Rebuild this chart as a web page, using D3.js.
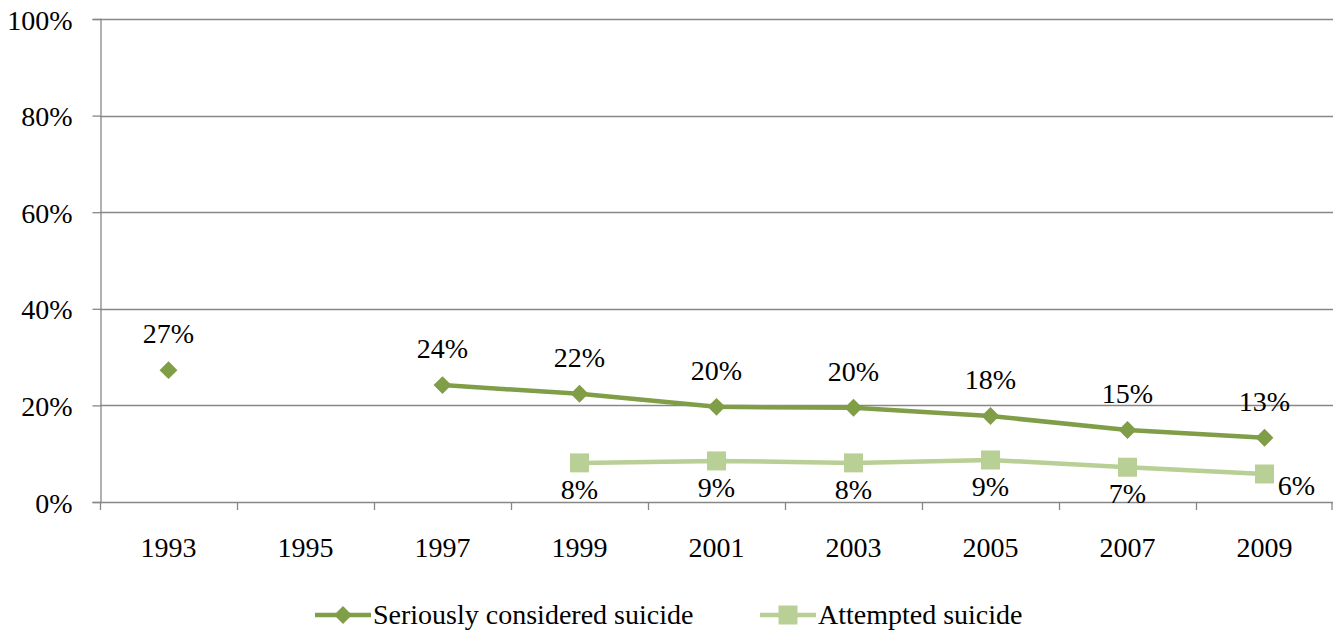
<!DOCTYPE html>
<html>
<head>
<meta charset="utf-8">
<script src="https://cdn.jsdelivr.net/npm/d3@7"></script>
<style>
  html, body { margin: 0; padding: 0; background: #fff; }
  svg text { font-family: 'Liberation Serif', 'Times New Roman', 'DejaVu Serif', serif; }
</style>
</head>
<body>
<svg id="chart" width="1333" height="630"></svg>
<script>
// Survey years on the category axis
const years = ["1993", "1995", "1997", "1999", "2001", "2003", "2005", "2007", "2009"];
// Percent of students (null = not asked that year)
const consideredValues = [27.3, null, 24.2, 22.4, 19.7, 19.5, 17.8, 14.9, 13.3];
const attemptedValues  = [null, null, null, 8.1, 8.5, 8.1, 8.7, 7.2, 5.8];
const yTicks = [0, 20, 40, 60, 80, 100];
const seriesNames = ["Seriously considered suicide", "Attempted suicide"];

const darkGreen = "#7F9E47";
const lightGreen = "#B8CF95";
const axisGray = "#878787";
const FONT = "'Liberation Serif', 'Times New Roman', 'DejaVu Serif', serif";
const FS = 28;

const svg = d3.select("#chart");
const margin = { left: 100, right: 0, top: 19, bottom: 128 };
const W = 1333, H = 630;
const plotBottom = H - margin.bottom; // 502

const x = d3.scaleBand().domain(years).range([margin.left, W - margin.right]).padding(0);
const y = d3.scaleLinear().domain([0, 100]).range([plotBottom, margin.top]);

// Horizontal gridlines
svg.append("g")
  .selectAll("line")
  .data(yTicks.filter(t => t > 0))
  .join("line")
  .attr("x1", margin.left).attr("x2", W)
  .attr("y1", d => Math.round(y(d)) + 0.5).attr("y2", d => Math.round(y(d)) + 0.5)
  .attr("stroke", axisGray).attr("stroke-width", 1.3);

// Y axis
const yAxis = svg.append("g")
  .attr("transform", `translate(${margin.left + 0.5},0)`)
  .call(d3.axisLeft(y).tickValues(yTicks).tickFormat(d => d + "%").tickSize(8).tickPadding(20))
  .attr("font-family", FONT).attr("font-size", FS);
yAxis.select(".domain").attr("stroke", axisGray).attr("stroke-width", 1.3);
yAxis.selectAll(".tick line").attr("stroke", axisGray).attr("stroke-width", 1.3);
yAxis.selectAll(".tick text").attr("fill", "#000").attr("dy", "0.36em");

// X axis: baseline plus tick marks at category boundaries
svg.append("line")
  .attr("x1", margin.left).attr("x2", W)
  .attr("y1", Math.round(plotBottom) + 0.5).attr("y2", Math.round(plotBottom) + 0.5)
  .attr("stroke", axisGray).attr("stroke-width", 1.3);
const boundaries = years.map(d => x(d)).concat([x(years[years.length - 1]) + x.bandwidth()]);
svg.append("g").selectAll("line")
  .data(boundaries)
  .join("line")
  .attr("x1", d => Math.min(Math.round(d) + 0.5, W - 1)).attr("x2", d => Math.min(Math.round(d) + 0.5, W - 1))
  .attr("y1", plotBottom).attr("y2", plotBottom + 8)
  .attr("stroke", axisGray).attr("stroke-width", 1.3);
svg.append("g").selectAll("text")
  .data(years)
  .join("text")
  .attr("x", d => x(d) + x.bandwidth() / 2)
  .attr("y", 557)
  .attr("text-anchor", "middle")
  .attr("font-family", FONT)
  .attr("font-size", FS)
  .text(d => d);

const cx = d => x(d) + x.bandwidth() / 2;
const line = d3.line()
  .defined(d => d.v != null)
  .x(d => cx(d.year))
  .y(d => y(d.v));

const considered = years.map((yr, i) => ({ year: yr, v: consideredValues[i] }));
const attempted = years.map((yr, i) => ({ year: yr, v: attemptedValues[i] }));

const diamond = d3.symbol().type(d3.symbolSquare).size(160);
const square = d3.symbol().type(d3.symbolSquare).size(360);

// Attempted suicide series
svg.append("path")
  .attr("d", line(attempted))
  .attr("fill", "none").attr("stroke", lightGreen).attr("stroke-width", 4.5)
  .attr("stroke-linejoin", "round");
svg.append("g").selectAll("path")
  .data(attempted.filter(d => d.v != null))
  .join("path")
  .attr("d", square)
  .attr("transform", d => `translate(${cx(d.year)},${y(d.v)})`)
  .attr("fill", lightGreen);

// Seriously considered suicide series
svg.append("path")
  .attr("d", line(considered))
  .attr("fill", "none").attr("stroke", darkGreen).attr("stroke-width", 4.5)
  .attr("stroke-linejoin", "round");
svg.append("g").selectAll("path")
  .data(considered.filter(d => d.v != null))
  .join("path")
  .attr("d", diamond)
  .attr("transform", d => `translate(${cx(d.year)},${y(d.v)}) rotate(45)`)
  .attr("fill", darkGreen);

// Data labels
svg.append("g").selectAll("text")
  .data(considered.filter(d => d.v != null))
  .join("text")
  .attr("x", d => cx(d.year))
  .attr("y", d => y(d.v) - 27)
  .attr("text-anchor", "middle")
  .attr("font-family", FONT)
  .attr("font-size", FS)
  .text(d => Math.round(d.v) + "%");

svg.append("g").selectAll("text")
  .data(attempted.filter(d => d.v != null))
  .join("text")
  .attr("x", d => d.year === "2009" ? cx(d.year) + 32 : cx(d.year))
  .attr("y", d => d.year === "2009" ? y(d.v) + 21 : y(d.v) + 36)
  .attr("text-anchor", "middle")
  .attr("font-family", FONT)
  .attr("font-size", FS)
  .text(d => Math.round(d.v) + "%");

// Legend
const legend = svg.append("g");
const items = [
  { name: seriesNames[0], color: darkGreen, x0: 315, sym: diamond, rot: 45 },
  { name: seriesNames[1], color: lightGreen, x0: 760, sym: square, rot: 0 }
];
items.forEach(it => {
  const ly = 615;
  legend.append("line")
    .attr("x1", it.x0).attr("x2", it.x0 + 56)
    .attr("y1", ly).attr("y2", ly)
    .attr("stroke", it.color).attr("stroke-width", 4.5);
  legend.append("path")
    .attr("d", it.sym)
    .attr("transform", `translate(${it.x0 + 28},${ly}) rotate(${it.rot})`)
    .attr("fill", it.color);
  legend.append("text")
    .attr("x", it.x0 + 58)
    .attr("y", ly + 9)
    .attr("font-family", FONT)
    .attr("font-size", FS)
    .text(it.name);
});
</script>
</body>
</html>
